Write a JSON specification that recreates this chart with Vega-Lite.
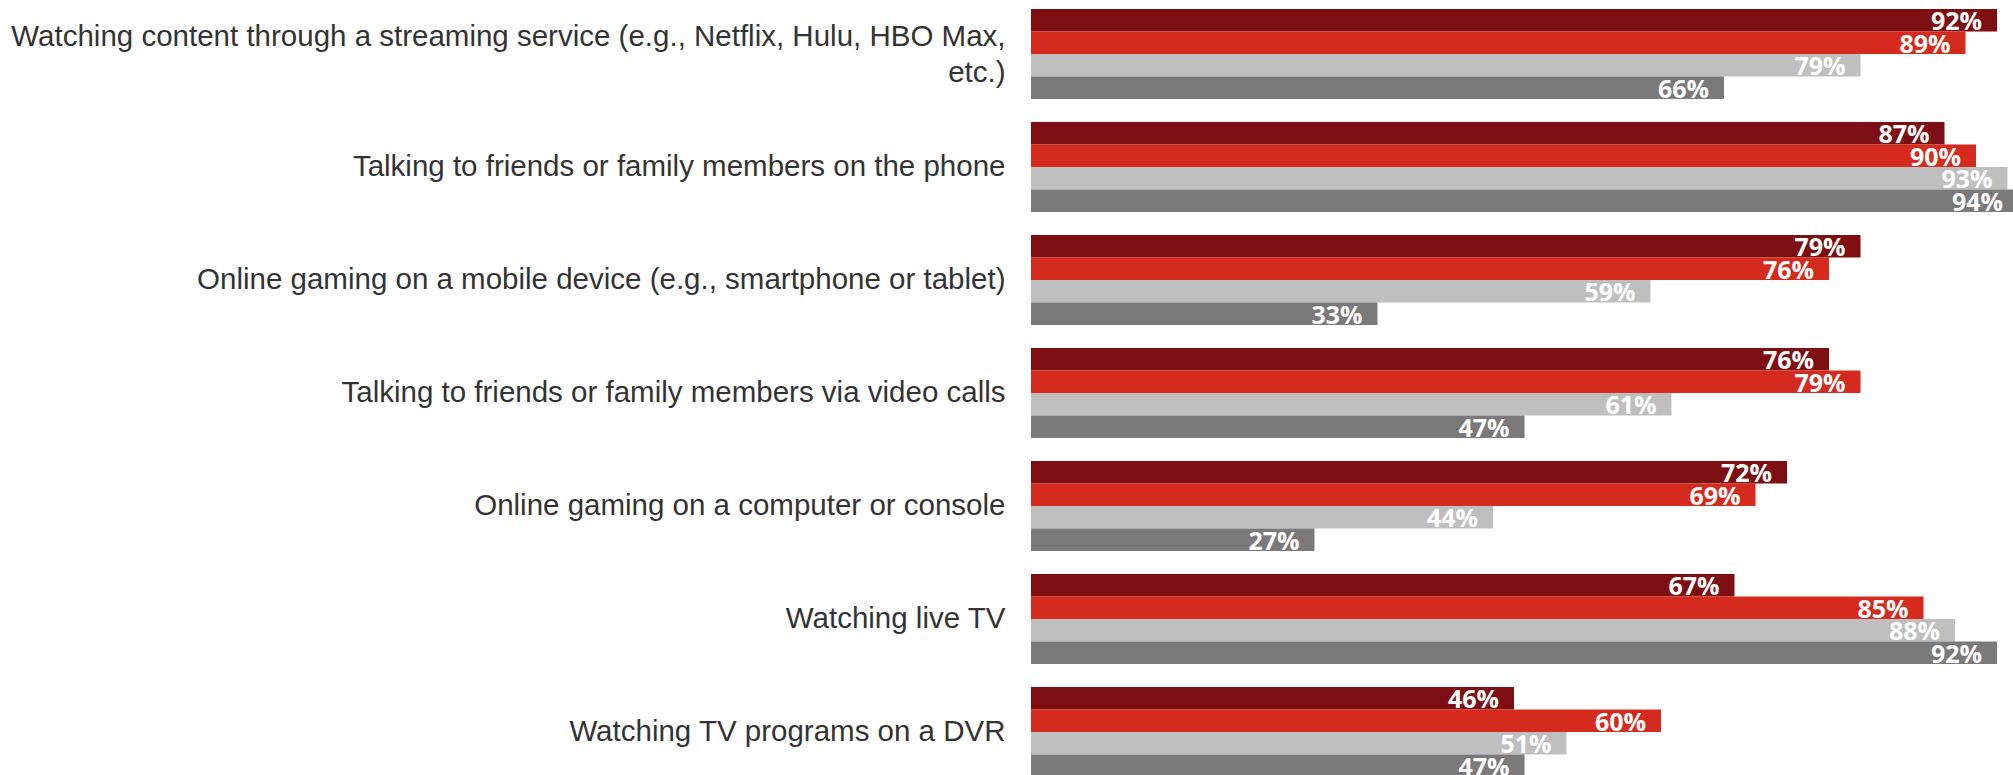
{
  "$schema": "https://vega.github.io/schema/vega-lite/v6.json",
  "autosize": "none",
  "padding": {"left": 1031, "top": 0, "right": 0, "bottom": 0},
  "width": 982,
  "height": 775,
  "background": "white",
  "config": {"view": {"stroke": null}},
  "data": {
    "values": [
      {"activity": "Watching content through a streaming service (e.g., Netflix, Hulu, HBO Max,|etc.)", "group": "Gen Z", "value": 92},
      {"activity": "Watching content through a streaming service (e.g., Netflix, Hulu, HBO Max,|etc.)", "group": "Millennials", "value": 89},
      {"activity": "Watching content through a streaming service (e.g., Netflix, Hulu, HBO Max,|etc.)", "group": "Gen X", "value": 79},
      {"activity": "Watching content through a streaming service (e.g., Netflix, Hulu, HBO Max,|etc.)", "group": "Boomers", "value": 66},
      {"activity": "Talking to friends or family members on the phone", "group": "Gen Z", "value": 87},
      {"activity": "Talking to friends or family members on the phone", "group": "Millennials", "value": 90},
      {"activity": "Talking to friends or family members on the phone", "group": "Gen X", "value": 93},
      {"activity": "Talking to friends or family members on the phone", "group": "Boomers", "value": 94},
      {"activity": "Online gaming on a mobile device (e.g., smartphone or tablet)", "group": "Gen Z", "value": 79},
      {"activity": "Online gaming on a mobile device (e.g., smartphone or tablet)", "group": "Millennials", "value": 76},
      {"activity": "Online gaming on a mobile device (e.g., smartphone or tablet)", "group": "Gen X", "value": 59},
      {"activity": "Online gaming on a mobile device (e.g., smartphone or tablet)", "group": "Boomers", "value": 33},
      {"activity": "Talking to friends or family members via video calls", "group": "Gen Z", "value": 76},
      {"activity": "Talking to friends or family members via video calls", "group": "Millennials", "value": 79},
      {"activity": "Talking to friends or family members via video calls", "group": "Gen X", "value": 61},
      {"activity": "Talking to friends or family members via video calls", "group": "Boomers", "value": 47},
      {"activity": "Online gaming on a computer or console", "group": "Gen Z", "value": 72},
      {"activity": "Online gaming on a computer or console", "group": "Millennials", "value": 69},
      {"activity": "Online gaming on a computer or console", "group": "Gen X", "value": 44},
      {"activity": "Online gaming on a computer or console", "group": "Boomers", "value": 27},
      {"activity": "Watching live TV", "group": "Gen Z", "value": 67},
      {"activity": "Watching live TV", "group": "Millennials", "value": 85},
      {"activity": "Watching live TV", "group": "Gen X", "value": 88},
      {"activity": "Watching live TV", "group": "Boomers", "value": 92},
      {"activity": "Watching TV programs on a DVR", "group": "Gen Z", "value": 46},
      {"activity": "Watching TV programs on a DVR", "group": "Millennials", "value": 60},
      {"activity": "Watching TV programs on a DVR", "group": "Gen X", "value": 51},
      {"activity": "Watching TV programs on a DVR", "group": "Boomers", "value": 47}
    ]
  },
  "encoding": {
    "y": {
      "field": "activity",
      "type": "nominal",
      "sort": null,
      "scale": {"range": [9, 777], "paddingInner": 0.2035, "paddingOuter": 0},
      "axis": {
        "title": null,
        "ticks": false,
        "domain": false,
        "labelPadding": 26,
        "labelLimit": 0,
        "labelFont": "Liberation Sans",
        "labelFontSize": 29.5,
        "labelColor": "#333333",
        "labelLineHeight": 36,
        "labelOffset": {"condition": {"test": "indexof(datum.value, '|') >= 0", "value": -17}, "value": 0},
        "labelExpr": "split(datum.label, '|')"
      }
    },
    "yOffset": {
      "field": "group",
      "type": "nominal",
      "sort": ["Gen Z", "Millennials", "Gen X", "Boomers"],
      "scale": {"paddingInner": 0, "paddingOuter": 0}
    },
    "x": {
      "field": "value",
      "type": "quantitative",
      "scale": {"domain": [0, 100], "range": [0, 1050], "nice": false},
      "axis": null
    }
  },
  "layer": [
    {
      "mark": {"type": "bar"},
      "encoding": {
        "color": {
          "field": "group",
          "type": "nominal",
          "sort": ["Gen Z", "Millennials", "Gen X", "Boomers"],
          "scale": {"domain": ["Gen Z", "Millennials", "Gen X", "Boomers"], "range": ["#7D0E11", "#D52B1E", "#BFBFBF", "#7A7A7A"]},
          "legend": null
        }
      }
    },
    {
      "mark": {
        "type": "text",
        "align": "right",
        "baseline": "alphabetic",
        "dx": -15,
        "dy": 10,
        "font": "Open Sans",
        "fontWeight": "bold",
        "fontSize": 25,
        "color": "white",
        "text": {"expr": "datum.value + '%'"}
      }
    }
  ]
}
